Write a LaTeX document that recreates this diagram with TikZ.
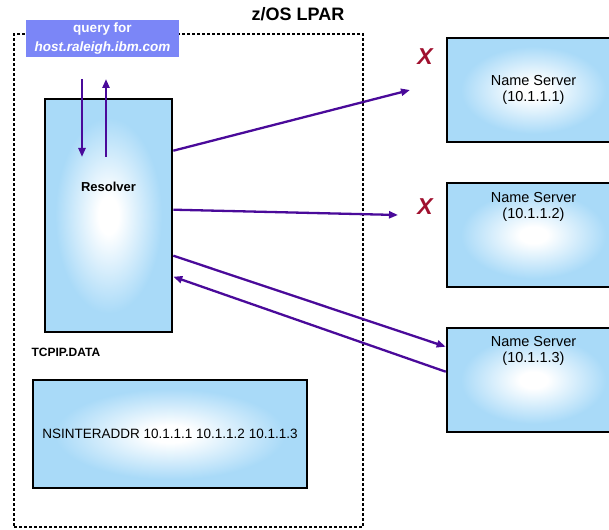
\documentclass[tikz,border=0pt]{standalone}
\usepackage{fontspec}
\setmainfont{Liberation Sans}
\usetikzlibrary{calc, arrows.meta, positioning}
\definecolor{skyblue}{HTML}{A9DAF8}
\definecolor{flowpurple}{HTML}{4A0A9A}
\definecolor{querybg}{HTML}{7B86F7}
\definecolor{missred}{HTML}{A0102E}
\pgfdeclareradialshading{glow}{\pgfpoint{0bp}{0bp}}{color(0bp)=(white); color(4bp)=(white); color(21bp)=(skyblue); color(50bp)=(skyblue)}

\begin{document}
\begin{tikzpicture}[x=1pt, y=-1pt,
    box/.style={draw=black, line width=2.6pt, shading=glow, align=center, font=\fontsize{14.5}{16}\selectfont},
    flow/.style={draw=flowpurple, line width=2.3pt, -{Triangle[length=9pt, width=7pt]}},
    miss/.style={text=missred, font=\fontsize{23}{23}\selectfont\bfseries\itshape}]
    \clip (0,0) rectangle (609,529);

    \node[draw, line width=2.6pt, dash pattern=on 2.6pt off 2.4pt, minimum width=349pt, minimum height=493pt] (lpar) at (188.5, 280.5) {};
    \node[font=\fontsize{18}{18}\selectfont\bfseries] (title) at (298, 14) {z/OS LPAR};

    \node[fill=querybg, text=white, minimum width=153pt, minimum height=37pt, inner sep=0pt, align=center, font=\fontsize{13.5}{19}\selectfont\bfseries] (query) at (102.5, 39) {query for\\\textit{host.raleigh.ibm.com}};

    \node[box, minimum width=127pt, minimum height=233pt, label={[anchor=center, yshift=-89pt, font=\fontsize{13}{13}\selectfont\bfseries]north:Resolver}] (res) at (108.5, 215.5) {};
    \node[font=\fontsize{12}{12}\selectfont\bfseries, anchor=west] (tcpip) at (28, 352) {TCPIP.DATA};
    \node[box, minimum width=274pt, minimum height=108pt, font=\fontsize{13.5}{16}\selectfont] (data) at (170, 434) {NSINTERADDR 10.1.1.1 10.1.1.2 10.1.1.3};

    \node[box, minimum width=173pt, minimum height=104pt] (ns1) at (533.5, 90) {Name Server\\(10.1.1.1)};
    \node[box, minimum width=173pt, minimum height=104pt, label={[anchor=center, yshift=-25pt, align=center, font=\fontsize{14.5}{16}\selectfont]north:Name Server\\(10.1.1.2)}] (ns2) at (533.5, 235) {};
    \node[box, minimum width=173pt, minimum height=104pt, label={[anchor=center, yshift=-24pt, align=center, font=\fontsize{14.5}{16}\selectfont]north:Name Server\\(10.1.1.3)}] (ns3) at (533.5, 380) {};

    \node[miss] (x1) at (425, 57) {X};
    \node[miss] (x2) at (425, 207) {X};

    \coordinate (qin) at (82, 79);
    \coordinate (qinend) at (82, 157);
    \coordinate (qout) at (106, 157);
    \coordinate (qoutend) at (106, 79);
    \coordinate (miss1) at (410, 90);
    \coordinate (miss2) at (398, 215);

    \draw
    (qin) edge[flow] (qinend)
    (qout) edge[flow] (qoutend)
    ($(res.north east)+(0,53)$) edge[flow] (miss1)
    ($(res.north east)+(0,112)$) edge[flow] (miss2)
    ($(res.north east)+(0,158)$) edge[flow] ($(ns3.north west)+(0,20)$)
    ($(ns3.north west)+(0,45)$) edge[flow] ($(res.north east)+(0,179)$);
\end{tikzpicture}
\end{document}
